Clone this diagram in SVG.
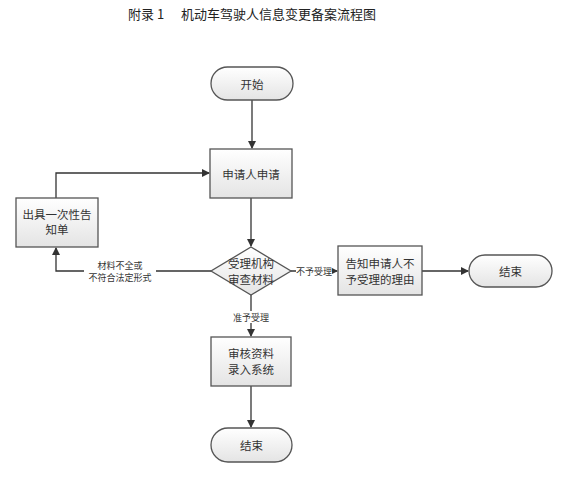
<svg xmlns="http://www.w3.org/2000/svg" width="564" height="500" viewBox="0 0 564 500">
<defs>
<linearGradient id="g" x1="0" y1="0" x2="0" y2="1">
<stop offset="0" stop-color="#ffffff"/>
<stop offset="1" stop-color="#e4e4e4"/>
</linearGradient>
<marker id="arr" markerWidth="8" markerHeight="8" refX="7" refY="4" orient="auto" markerUnits="userSpaceOnUse">
<path d="M0,0 L8,4 L0,8 Z" fill="#333"/>
</marker>
<style>
.shape{fill:url(#g);stroke:#555;stroke-width:1.3}
.t{font-family:"Noto Sans CJK SC","Liberation Sans",sans-serif;font-size:11.5px;fill:#333;text-anchor:middle;dominant-baseline:central}
.s{font-family:"Noto Sans CJK SC","Liberation Sans",sans-serif;font-size:9px;fill:#333;text-anchor:middle;dominant-baseline:central}
.ln{fill:none;stroke:#333;stroke-width:1.3;marker-end:url(#arr)}
.title{font-family:"Noto Sans CJK SC","Liberation Sans",sans-serif;font-size:13px;fill:#222}
</style>
</defs>
<rect width="564" height="500" fill="#fff"/>
<text class="title" x="128" y="19">附录 1<tspan x="181">机动车驾驶人信息变更备案流程图</tspan></text>

<g id="connectors">
<path class="ln" d="M252,100 V148"/>
<path class="ln" d="M251,198 V246"/>
<path class="ln" d="M211,271 H56 V248"/>
<path class="ln" d="M56,198 V173 H209"/>
<path class="ln" d="M291,271 H337"/>
<path class="ln" d="M422,271 H468"/>
<path class="ln" d="M251,295 V336"/>
<path class="ln" d="M251,386 V427"/>
<rect x="84" y="258" width="72" height="25" fill="#fff"/>
<text class="s" x="120" y="265">材料不全或</text>
<text class="s" x="120" y="277">不符合法定形式</text>
<rect x="296" y="265" width="36" height="12" fill="#fff"/>
<text class="s" x="314" y="271">不予受理</text>
<rect x="232" y="311" width="38" height="12" fill="#fff"/>
<text class="s" x="251" y="317">准予受理</text>
</g>

<g id="start">
<rect class="shape" x="211" y="67" width="82" height="33" rx="16.5"/>
<text class="t" x="252" y="83.5">开始</text>
</g>
<g id="apply">
<rect class="shape" x="210" y="149" width="82" height="49"/>
<text class="t" x="251" y="173.5">申请人申请</text>
</g>
<g id="notice">
<rect class="shape" x="16" y="198" width="82" height="49"/>
<text class="t" x="57" y="214">出具一次性告</text>
<text class="t" x="57" y="229">知单</text>
</g>
<g id="review">
<path class="shape" d="M251,247 L291,271 L251,295 L211,271 Z"/>
<text class="t" x="251" y="263">受理机构</text>
<text class="t" x="251" y="279">审查材料</text>
</g>
<g id="reject">
<rect class="shape" x="338" y="246" width="84" height="49"/>
<text class="t" x="380" y="263">告知申请人不</text>
<text class="t" x="380" y="279">予受理的理由</text>
</g>
<g id="end1">
<rect class="shape" x="469" y="255" width="83" height="32" rx="16"/>
<text class="t" x="510.5" y="271">结束</text>
</g>
<g id="record">
<rect class="shape" x="211" y="337" width="80" height="49"/>
<text class="t" x="251" y="353">审核资料</text>
<text class="t" x="251" y="369">录入系统</text>
</g>
<g id="end2">
<rect class="shape" x="211" y="428" width="81" height="34" rx="17"/>
<text class="t" x="251.5" y="445">结束</text>
</g>
</svg>
